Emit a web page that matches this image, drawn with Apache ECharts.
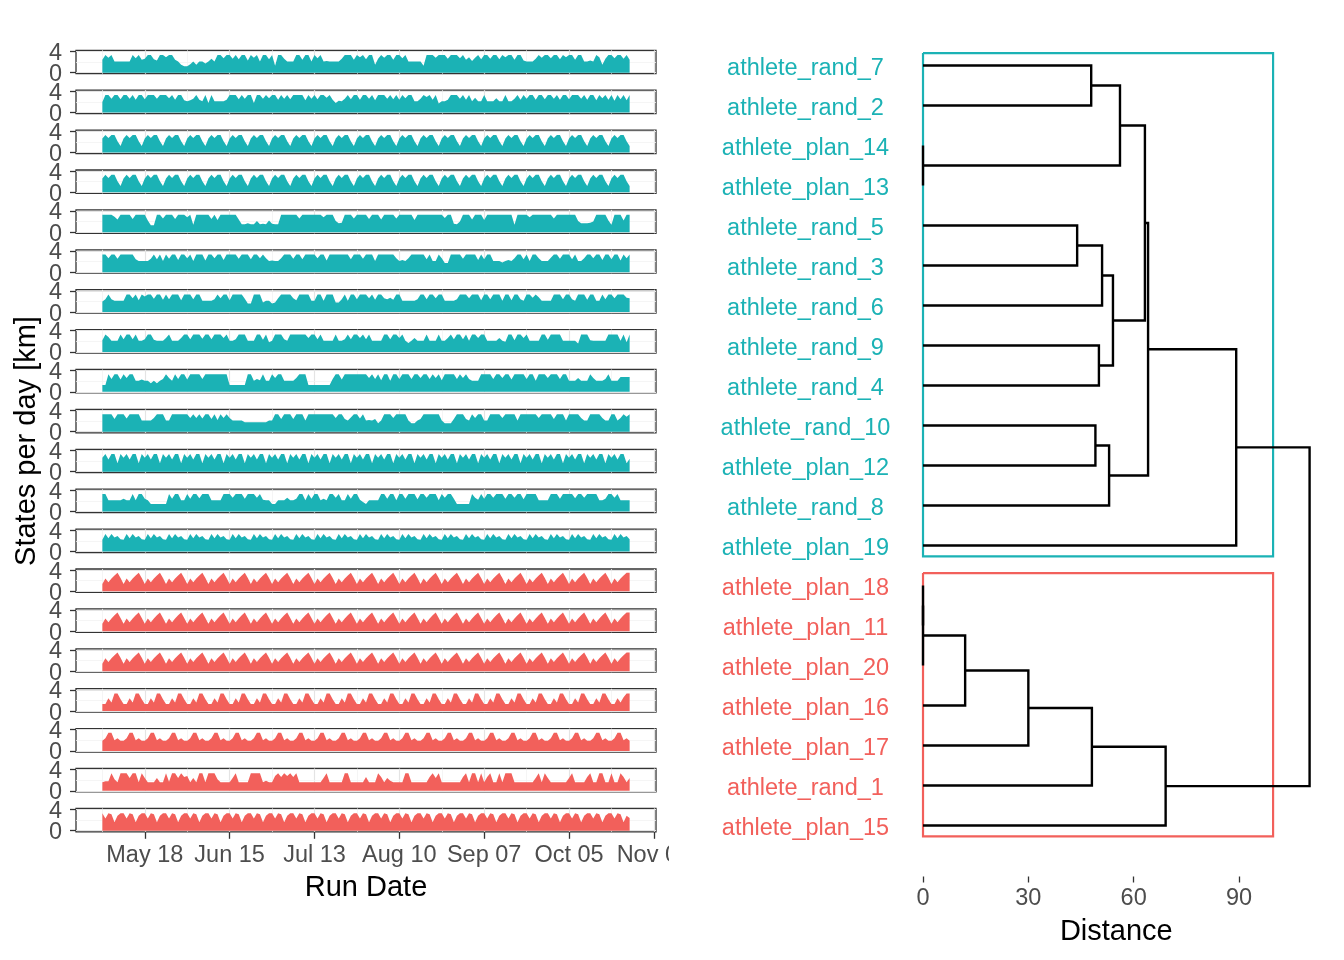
<!DOCTYPE html>
<html><head><meta charset="utf-8">
<script src="https://cdn.jsdelivr.net/npm/echarts@6/dist/echarts.min.js"></script>
<style>html,body{margin:0;padding:0;background:#fff}#c{width:1344px;height:960px}</style>
</head><body><div id="c"></div><script>
// ---------- DATA ----------
// x: day index, day 0 = May 04 (data run May 04 .. Oct 25)
const dateTickDays = [14, 42, 70, 98, 126, 154, 182];
const dateTickLabels = ['May 18', 'Jun 15', 'Jul 13', 'Aug 10', 'Sep 07', 'Oct 05', 'Nov 02'];
const minorGridDays = [0, 28, 56, 84, 112, 140, 168];
const yTickValues = [0, 4];
const distanceTicks = [0, 30, 60, 90];

const leafLabels = ['athlete_rand_7','athlete_rand_2','athlete_plan_14','athlete_plan_13','athlete_rand_5','athlete_rand_3','athlete_rand_6','athlete_rand_9','athlete_rand_4','athlete_rand_10','athlete_plan_12','athlete_rand_8','athlete_plan_19','athlete_plan_18','athlete_plan_11','athlete_plan_20','athlete_plan_16','athlete_plan_17','athlete_rand_1','athlete_plan_15'];
const leafCluster = [1,1,1,1,1,1,1,1,1,1,1,1,1,2,2,2,2,2,2,2];

// hclust-style merges: negative = leaf (-(index+1)), positive = earlier merge (1-based)
const mergeLeft   = [-14,  1, -3,  2,  4, -5, -1,  5, -10, -8,  6,  9, 11,  7, 14, 15,  8, 16, 18];
const mergeRight  = [-15,-16, -4,-17,-18, -6, -2,-19, -11, -9, -7,-12, 10,  3, 13, 12,-20,-13, 17];
const mergeHeight = [0, 0, 0, 12.0, 30.0, 43.9, 47.9, 48.1, 49.1, 50.1, 51.0, 53.0, 54.1, 56.1, 63.2, 64.1, 69.1, 89.2, 110.1];

const rand_7 = [2.4,3.3,2.8,3.3,2.1,2.1,2.1, 2.1,2.1,2.1,3.3,2.7,3.3,2.4, 2.6,3.3,3.3,2.5,2.3,3.3,3.3, 2.9,3.3,3.3,2.4,2.1,1.5,1.2, 1.2,1.6,2.1,1.5,2.1,2.1,1.7, 2.1,2.6,2.1,3.3,3.3,2.7,3.3, 3.3,2.6,3.3,2.5,3.3,3.3,2.3, 3.3,2.8,3.3,2.1,3.3,3.3,2.5, 3.3,1.3,3.3,3.3,2.6,2.1,2.1, 2.1,3.3,3.3,2.4,3.3,3.3,2.1, 3.3,2.7,3.3,2.1,2.2,2.1,2.1, 2.1,2.1,2.6,3.3,3.3,3.3,2.4, 3.3,2.9,3.3,2.5,3.3,3.3,1.5, 2.6,3.3,2.8,3.3,3.3,2.4,3.3, 3.3,2.7,3.3,2.1,2.1,2.1,2.1, 2.1,1.3,3.3,3.3,3.3,2.8,3.3, 3.3,3.3,2.6,3.3,3.3,3.3,2.7, 3.3,2.4,2.9,2.2,2.8,3.3,2.5, 3.3,3.3,2.6,3.3,3.3,2.5,3.3, 2.9,3.3,3.3,2.4,3.3,3.3,2.3, 2.1,2.1,2.1,2.6,3.3,2.8,3.3, 3.3,2.7,3.3,3.3,2.5,3.3,2.9, 3.3,3.3,2.4,3.3,3.3,2.1,2.1, 2.3,2.1,3.3,2.9,1.5,2.6,3.3, 3.3,2.7,3.3,3.3,2.6,3.3,2.4];
const rand_2 = [2.0,3.3,3.3,2.6,3.3,3.3,2.5, 3.3,3.3,2.6,3.3,2.4,3.3,3.3, 2.5,3.3,3.3,3.3,2.6,3.3,3.3, 3.3,2.7,3.3,2.4,3.3,3.3,2.3, 2.1,2.3,2.6,3.3,2.4,2.1,3.3, 1.8,3.3,2.1,2.1,2.1,2.1,2.4, 3.3,3.3,3.3,2.5,3.3,2.6,3.3, 3.3,1.8,3.3,3.3,2.6,3.3,2.7, 3.3,3.3,2.4,3.3,2.6,3.3,2.5, 3.3,3.3,3.3,3.3,2.3,3.3,2.6, 3.3,2.5,3.3,3.3,2.8,3.3,2.4, 1.8,2.2,2.1,2.6,3.3,2.5,3.3, 3.3,2.4,3.3,3.3,2.6,3.3,2.3, 3.3,3.3,3.3,2.6,3.3,2.5,3.3, 2.4,3.3,2.7,3.3,3.3,2.1,2.1, 2.6,3.3,2.9,3.3,2.4,3.3,1.7, 2.1,2.1,2.4,3.3,3.3,3.3,2.6, 3.3,2.4,3.3,2.1,2.8,2.1,2.1, 3.3,2.1,2.1,2.1,2.7,2.1,2.1, 3.3,2.1,2.1,2.6,3.3,2.4,3.3, 2.6,3.3,3.3,2.4,3.3,3.3,2.5, 3.3,3.3,2.6,3.3,2.4,3.3,3.3, 2.5,3.3,3.3,3.3,2.6,3.3,2.4, 3.3,3.3,2.3,3.3,2.7,3.3,2.4, 3.3,2.2,3.3,2.5,3.3,2.3,3.3];
const plan_14 = [2.6,3.3,2.7,3.3,3.3,2.1,1.2, 2.6,3.3,2.7,3.3,3.3,2.1,1.2, 2.6,3.3,2.7,3.3,3.3,2.1,1.2, 2.6,3.3,2.7,3.3,3.3,2.1,1.2, 2.6,3.3,2.7,3.3,3.3,2.1,1.2, 2.6,3.3,2.7,3.3,3.3,2.1,1.2, 2.6,3.3,2.7,3.3,3.3,2.1,1.2, 2.6,3.3,2.7,3.3,3.3,2.1,1.2, 2.6,3.3,2.7,3.3,3.3,2.1,1.2, 2.6,3.3,2.7,3.3,3.3,2.1,1.2, 2.6,3.3,2.7,3.3,3.3,2.1,1.2, 2.6,3.3,2.7,3.3,3.3,2.1,1.2, 2.6,3.3,2.7,3.3,3.3,2.1,1.2, 2.6,3.3,2.7,3.3,3.3,2.1,1.2, 2.6,3.3,2.7,3.3,3.3,2.1,1.2, 2.6,3.3,2.7,3.3,3.3,2.1,1.2, 2.6,3.3,2.7,3.3,3.3,2.1,1.2, 2.6,3.3,2.7,3.3,3.3,2.1,1.2, 2.6,3.3,2.7,3.3,3.3,2.1,1.2, 2.6,3.3,2.7,3.3,3.3,2.1,1.2, 2.6,3.3,2.7,3.3,3.3,2.1,1.2, 2.6,3.3,2.7,3.3,3.3,2.1,1.2, 2.6,3.3,2.7,3.3,3.3,2.1,1.2, 2.6,3.3,2.7,3.3,3.3,2.1,1.2, 2.6,3.3,2.7,3.3,3.3,2.1,1.2];
const plan_13 = plan_14; // identical series (distance 0)
const rand_5 = [3.3,3.3,3.3,3.3,2.9,2.4,3.3, 3.3,3.3,3.3,2.5,3.3,3.3,3.3, 3.3,2.2,1.3,1.3,3.3,3.3,2.6, 3.3,3.3,3.3,2.5,3.3,3.3,3.3, 2.8,3.3,1.4,3.3,3.3,3.3,3.3, 3.3,2.5,3.3,2.3,3.3,3.3,3.3, 3.3,3.3,3.3,2.4,1.5,1.5,1.7, 1.5,1.5,2.1,1.5,1.6,1.5,2.2, 1.6,1.5,1.5,3.3,3.3,3.3,3.3, 3.3,3.3,2.6,3.3,3.3,3.3,3.3, 3.3,3.3,3.3,2.8,3.3,3.3,3.3, 2.1,1.7,1.8,3.3,3.3,3.3,2.6, 3.3,3.3,3.3,3.3,2.5,3.3,3.3, 3.3,2.4,3.3,3.3,3.3,3.3,2.6, 3.3,3.3,3.3,3.3,3.3,2.3,3.3, 3.3,3.3,3.3,3.3,3.3,3.3,3.3, 3.3,2.7,3.3,3.3,1.6,1.5,2.0, 3.3,3.3,3.3,2.4,3.3,3.3,3.3, 2.3,3.3,3.3,3.3,3.3,3.3,3.3, 3.3,3.3,3.3,1.4,3.3,3.3,3.3, 3.3,2.8,3.3,3.3,3.3,3.3,3.3, 3.3,3.3,2.6,3.3,3.3,3.3,3.3, 3.3,3.3,3.3,2.1,1.7,1.7,1.7, 1.8,2.0,3.3,3.3,3.3,3.3,2.2, 1.4,3.3,3.3,3.3,2.2,3.3,3.3];
const rand_3 = [3.3,3.3,2.6,3.3,3.3,2.5,3.3, 3.3,3.3,3.3,3.3,2.4,2.1,2.1, 2.1,2.1,2.5,3.3,2.4,3.3,2.1, 3.3,2.5,3.3,3.3,2.3,3.3,3.3, 2.6,3.3,2.1,3.3,3.3,3.3,2.2, 3.3,3.3,2.6,3.3,3.3,2.3,3.3, 3.3,3.3,3.3,2.5,3.3,3.3,3.3, 2.4,3.3,3.3,2.6,3.3,2.6,2.1, 2.2,2.1,2.1,2.6,3.3,3.3,3.3, 2.5,3.3,3.3,2.4,3.3,3.3,3.3, 3.3,2.6,3.3,3.3,2.2,3.3,3.3, 3.3,3.3,3.3,3.3,3.3,2.4,3.3, 3.3,3.3,2.5,3.3,3.3,3.3,2.1, 3.3,3.3,3.3,3.3,3.3,3.3,2.6, 2.1,2.3,2.1,2.6,3.3,3.3,3.3, 3.3,3.3,2.4,3.3,2.1,2.1,3.3, 2.6,1.7,1.7,3.3,3.3,3.3,3.3, 2.5,3.3,3.3,3.3,3.3,2.3,3.3, 2.4,3.3,3.3,2.1,2.1,2.1,1.8, 2.1,2.3,2.1,2.6,3.3,3.3,2.4, 3.3,2.1,3.3,3.3,2.6,2.1,2.1, 2.1,2.7,3.3,3.3,2.5,3.3,3.3, 3.3,2.4,3.3,2.1,2.1,2.6,3.3, 3.3,2.6,3.3,3.3,2.3,3.3,3.3, 2.4,3.3,3.3,2.2,3.3,2.6,3.3];
const rand_6 = [2.0,2.4,3.3,2.4,2.1,2.1,2.1, 2.1,3.3,3.3,2.6,3.3,2.2,3.3, 2.9,3.3,3.3,2.5,3.3,3.3,2.3, 3.3,2.4,3.3,3.3,3.3,2.2,3.3, 3.3,3.3,2.4,3.3,3.3,2.1,2.1, 2.1,2.1,2.4,3.3,2.6,3.3,3.3, 2.2,3.3,3.3,3.3,3.3,2.5,1.6, 1.6,3.3,3.3,3.3,1.8,2.1,2.1, 1.6,1.8,2.6,3.3,3.3,3.3,3.3, 2.6,2.2,3.3,3.3,3.3,3.3,2.1, 2.1,3.3,3.3,2.1,3.3,3.3,3.3, 1.8,1.8,2.4,3.3,2.1,3.3,3.3, 2.4,3.3,3.3,3.3,2.6,3.3,2.3, 3.3,3.3,2.6,2.4,2.7,2.3,3.3, 3.3,2.1,2.1,2.1,2.1,2.1,2.4, 3.3,3.3,2.4,3.3,3.3,2.6,3.3, 3.3,2.1,2.1,2.1,2.1,2.4,3.3, 3.3,3.3,2.6,3.3,3.3,3.3,2.2, 3.3,3.3,2.4,3.3,3.3,3.3,2.1, 3.3,3.3,2.2,3.3,3.3,2.4,2.1, 3.3,3.3,2.7,3.3,2.8,2.1,2.1, 2.1,2.1,3.3,3.3,3.3,2.4,3.3, 3.3,2.4,2.1,3.3,3.3,3.3,2.3, 3.3,3.3,2.1,2.1,3.3,2.4,3.3, 3.3,2.6,3.3,3.3,3.3,2.7,2.6];
const rand_9 = [2.2,3.3,2.8,2.1,2.1,2.1,3.3, 2.4,3.3,3.3,2.4,3.3,2.1,2.1, 2.4,3.3,3.3,2.3,2.1,2.1,2.1, 2.6,3.3,2.1,2.1,2.1,2.6,3.3, 3.3,2.4,3.3,3.3,3.3,2.5,3.3, 3.3,2.4,3.3,3.3,3.3,2.6,3.3, 2.1,2.1,2.4,3.3,3.3,3.3,2.1, 2.1,2.1,3.3,3.3,2.3,3.3,1.8, 2.1,3.3,3.3,3.3,2.4,2.1,3.3, 3.3,3.3,3.3,3.3,3.3,2.6,3.3, 3.3,2.4,3.3,2.1,2.1,2.1,2.1, 3.3,2.1,2.1,2.4,3.3,2.4,3.3, 3.3,2.6,3.3,2.4,3.3,2.1,2.1, 2.1,2.1,3.3,3.3,2.4,3.3,3.3, 2.6,3.3,2.1,1.7,2.1,2.6,2.1, 2.1,2.1,3.3,2.1,2.1,2.1,3.3, 2.1,2.1,2.6,3.3,2.4,3.3,3.3, 2.4,3.3,2.1,3.3,3.3,2.6,3.3, 3.3,2.1,2.1,2.1,2.1,2.6,2.1, 1.9,3.3,3.3,2.2,3.3,3.3,2.6, 3.3,2.1,2.1,2.1,2.1,3.3,3.3, 2.3,3.3,3.3,3.3,3.3,2.1,2.1, 2.1,2.1,2.1,1.6,3.3,3.3,3.3, 2.2,2.1,2.1,2.1,2.1,2.1,3.3, 3.3,3.3,3.3,2.1,3.3,1.8,3.3];
const rand_4 = [1.3,1.3,3.3,2.4,3.3,3.3,2.3, 3.3,2.6,3.3,3.3,2.1,2.1,2.3, 2.1,2.1,1.6,2.1,1.6,2.1,2.4, 3.3,2.6,2.1,3.3,2.4,3.3,3.3, 2.3,3.3,3.3,3.3,3.3,2.4,3.3, 3.3,3.3,3.3,3.3,3.3,3.3,3.3, 1.3,1.3,1.3,1.3,1.3,1.3,3.3, 3.3,2.1,2.4,2.2,3.3,2.1,2.1, 3.3,2.6,3.3,3.3,2.1,2.1,2.1, 2.1,2.6,3.3,3.3,3.3,1.3,1.3, 1.3,1.3,1.3,1.3,1.3,1.3,2.4, 3.3,3.3,2.3,3.3,3.3,3.3,3.3, 3.3,3.3,3.3,3.3,2.6,3.3,2.4, 3.3,2.2,3.3,3.3,2.1,3.3,3.3, 2.4,3.3,3.3,3.3,2.4,3.3,3.3, 2.6,3.3,3.3,2.4,3.3,2.6,3.3, 2.2,3.3,3.3,3.3,3.3,2.4,3.3, 2.6,3.3,2.4,2.1,2.1,2.1,3.3, 3.3,3.3,3.3,2.4,3.3,3.3,2.6, 3.3,3.3,2.3,3.3,3.3,3.3,3.3, 2.4,3.3,3.3,2.1,3.3,3.3,3.3, 2.6,3.3,3.3,3.3,2.4,3.3,3.3, 2.1,2.1,2.1,2.6,2.1,2.1,2.1, 3.3,2.6,2.1,2.1,2.1,2.4,3.3, 2.1,2.1,2.1,2.8,2.8,2.8,2.8];
const rand_10 = [3.3,3.3,3.3,3.3,2.4,3.3,3.3, 3.3,2.5,3.3,3.3,3.3,3.3,2.1, 2.1,2.1,2.1,2.6,3.3,3.3,3.3, 2.1,2.1,3.3,3.3,3.3,3.3,3.3, 3.3,2.6,3.3,2.6,3.3,2.5,3.3, 3.3,2.4,3.3,2.2,3.3,2.6,3.3, 2.6,2.1,2.1,2.1,2.1,1.8,1.8, 1.8,1.8,1.8,1.8,1.8,1.8,2.1, 2.1,3.3,3.3,2.4,3.3,3.3,3.3, 2.4,3.3,3.3,3.3,2.1,3.3,3.3, 3.3,3.3,3.3,3.3,3.3,3.3,3.3, 2.6,3.3,3.3,2.4,2.1,2.7,3.3, 3.3,2.5,3.3,2.1,2.2,2.1,2.4, 1.6,2.1,3.3,3.3,3.3,2.6,3.3, 3.3,3.3,3.3,2.1,1.6,1.6,2.1, 2.4,3.3,3.3,3.3,3.3,3.3,3.3, 2.1,1.6,1.6,1.6,2.4,3.3,3.3, 3.3,2.4,2.1,3.3,2.6,3.3,3.3, 2.1,2.1,3.3,3.3,3.3,3.3,2.6, 3.3,3.3,3.3,3.3,2.1,3.3,3.3, 3.3,3.3,3.3,3.3,2.6,3.3,3.3, 3.3,3.3,2.4,3.3,3.3,3.3,2.1, 3.3,3.3,3.3,3.3,2.6,2.1,2.1, 3.3,3.3,3.3,3.3,2.6,2.1,2.1, 3.3,3.3,2.1,2.6,3.3,2.8,3.3];
const plan_12 = [2.6,3.3,2.3,3.3,3.3,1.6,3.3, 2.6,3.3,2.3,3.3,3.3,1.6,3.3, 2.6,3.3,2.3,3.3,3.3,1.6,3.3, 2.6,3.3,2.3,3.3,3.3,1.6,3.3, 2.6,3.3,2.3,3.3,3.3,1.6,3.3, 2.6,3.3,2.3,3.3,3.3,1.6,3.3, 2.6,3.3,2.3,3.3,3.3,1.6,3.3, 2.6,3.3,2.3,3.3,3.3,1.6,3.3, 2.6,3.3,2.3,3.3,3.3,1.6,3.3, 2.6,3.3,2.3,3.3,3.3,1.6,3.3, 2.6,3.3,2.3,3.3,3.3,1.6,3.3, 2.6,3.3,2.3,3.3,3.3,1.6,3.3, 2.6,3.3,2.3,3.3,3.3,1.6,3.3, 2.6,3.3,2.3,3.3,3.3,1.6,3.3, 2.6,3.3,2.3,3.3,3.3,1.6,3.3, 2.6,3.3,2.3,3.3,3.3,1.6,3.3, 2.6,3.3,2.3,3.3,3.3,1.6,3.3, 2.6,3.3,2.3,3.3,3.3,1.6,3.3, 2.6,3.3,2.3,3.3,3.3,1.6,3.3, 2.6,3.3,2.3,3.3,3.3,1.6,3.3, 2.6,3.3,2.3,3.3,3.3,1.6,3.3, 2.6,3.3,2.3,3.3,3.3,1.6,3.3, 2.6,3.3,2.3,3.3,3.3,1.6,3.3, 2.6,3.3,2.3,3.3,3.3,1.6,3.3, 2.6,3.3,2.3,3.3,3.3,1.6,2.4];
const rand_8 = [3.3,3.3,2.1,2.1,2.1,2.1,2.1, 2.4,2.1,2.1,3.3,2.1,3.3,3.3, 2.4,2.1,1.4,1.4,1.4,1.4,1.4, 1.4,3.3,2.4,3.3,3.3,2.1,2.1, 3.3,2.4,3.3,3.3,2.5,3.3,3.3, 3.3,2.1,2.1,2.1,2.1,3.3,3.3, 3.3,2.6,3.3,3.3,3.3,2.4,3.3, 3.3,3.3,2.6,3.3,2.2,2.1,2.1, 1.4,1.4,2.1,2.1,2.1,2.6,2.1, 2.1,2.4,3.3,3.3,2.1,3.3,2.4, 3.3,3.3,2.1,2.4,2.1,3.3,3.3, 2.6,3.3,2.1,2.1,3.3,2.4,3.3, 3.3,2.2,1.8,1.4,2.1,2.1,2.1, 2.1,3.3,3.3,2.4,3.3,3.3,2.1, 3.3,3.3,2.4,3.3,3.3,3.3,2.3, 3.3,3.3,2.6,3.3,3.3,3.3,2.1, 3.3,2.6,3.3,3.3,2.4,1.4,1.4, 1.4,1.4,1.4,3.3,2.6,2.2,3.3, 2.4,3.3,3.3,2.6,3.3,3.3,3.3, 2.4,3.3,3.3,2.6,3.3,3.3,2.3, 3.3,3.3,3.3,3.3,2.1,2.1,2.1, 2.1,3.3,3.3,3.3,2.4,3.3,3.3, 3.3,3.3,2.5,3.3,3.3,2.6,3.3, 3.3,3.3,3.3,2.1,2.1,2.4,3.3, 3.3,2.6,3.3,2.1,2.1,2.1,2.1];
const plan_19 = [2.2,3.3,2.5,3.3,2.6,2.9,2.3, 2.2,3.3,2.5,3.3,2.6,2.9,2.3, 2.2,3.3,2.5,3.3,2.6,2.9,2.3, 2.2,3.3,2.5,3.3,2.6,2.9,2.3, 2.2,3.3,2.5,3.3,2.6,2.9,2.3, 2.2,3.3,2.5,3.3,2.6,2.9,2.3, 2.2,3.3,2.5,3.3,2.6,2.9,2.3, 2.2,3.3,2.5,3.3,2.6,2.9,2.3, 2.2,3.3,2.5,3.3,2.6,2.9,2.3, 2.2,3.3,2.5,3.3,2.6,2.9,2.3, 2.2,3.3,2.5,3.3,2.6,2.9,2.3, 2.2,3.3,2.5,3.3,2.6,2.9,2.3, 2.2,3.3,2.5,3.3,2.6,2.9,2.3, 2.2,3.3,2.5,3.3,2.6,2.9,2.3, 2.2,3.3,2.5,3.3,2.6,2.9,2.3, 2.2,3.3,2.5,3.3,2.6,2.9,2.3, 2.2,3.3,2.5,3.3,2.6,2.9,2.3, 2.2,3.3,2.5,3.3,2.6,2.9,2.3, 2.2,3.3,2.5,3.3,2.6,2.9,2.3, 2.2,3.3,2.5,3.3,2.6,2.9,2.3, 2.2,3.3,2.5,3.3,2.6,2.9,2.3, 2.2,3.3,2.5,3.3,2.6,2.9,2.3, 2.2,3.3,2.5,3.3,2.6,2.9,2.3, 2.2,3.3,2.5,3.3,2.6,2.9,2.3, 2.2,3.3,2.5,3.3,2.6,2.9,2.3];
const plan_18 = [1.4,2.4,1.7,2.4,3.0,3.5,2.5, 1.4,2.4,1.7,2.4,3.0,3.5,2.5, 1.4,2.4,1.7,2.4,3.0,3.5,2.5, 1.4,2.4,1.7,2.4,3.0,3.5,2.5, 1.4,2.4,1.7,2.4,3.0,3.5,2.5, 1.4,2.4,1.7,2.4,3.0,3.5,2.5, 1.4,2.4,1.7,2.4,3.0,3.5,2.5, 1.4,2.4,1.7,2.4,3.0,3.5,2.5, 1.4,2.4,1.7,2.4,3.0,3.5,2.5, 1.4,2.4,1.7,2.4,3.0,3.5,2.5, 1.4,2.4,1.7,2.4,3.0,3.5,2.5, 1.4,2.4,1.7,2.4,3.0,3.5,2.5, 1.4,2.4,1.7,2.4,3.0,3.5,2.5, 1.4,2.4,1.7,2.4,3.0,3.5,2.5, 1.4,2.4,1.7,2.4,3.0,3.5,2.5, 1.4,2.4,1.7,2.4,3.0,3.5,2.5, 1.4,2.4,1.7,2.4,3.0,3.5,2.5, 1.4,2.4,1.7,2.4,3.0,3.5,2.5, 1.4,2.4,1.7,2.4,3.0,3.5,2.5, 1.4,2.4,1.7,2.4,3.0,3.5,2.5, 1.4,2.4,1.7,2.4,3.0,3.5,2.5, 1.4,2.4,1.7,2.4,3.0,3.5,2.5, 1.4,2.4,1.7,2.4,3.0,3.5,2.5, 1.4,2.4,1.7,2.4,3.0,3.5,2.5, 1.4,2.4,1.7,2.4,3.0,3.5,3.5];
const plan_11 = plan_18; // identical series (distance 0)
const plan_20 = plan_18; // identical series (distance 0)
const plan_16 = [1.3,1.3,2.4,1.6,3.3,3.3,2.2, 1.3,1.3,2.4,1.6,3.3,3.3,2.2, 1.3,1.3,2.4,1.6,3.3,3.3,2.2, 1.3,1.3,2.4,1.6,3.3,3.3,2.2, 1.3,1.3,2.4,1.6,3.3,3.3,2.2, 1.3,1.3,2.4,1.6,3.3,3.3,2.2, 1.3,1.3,2.4,1.6,3.3,3.3,2.2, 1.3,1.3,2.4,1.6,3.3,3.3,2.2, 1.3,1.3,2.4,1.6,3.3,3.3,2.2, 1.3,1.3,2.4,1.6,3.3,3.3,2.2, 1.3,1.3,2.4,1.6,3.3,3.3,2.2, 1.3,1.3,2.4,1.6,3.3,3.3,2.2, 1.3,1.3,2.4,1.6,3.3,3.3,2.2, 1.3,1.3,2.4,1.6,3.3,3.3,2.2, 1.3,1.3,2.4,1.6,3.3,3.3,2.2, 1.3,1.3,2.4,1.6,3.3,3.3,2.2, 1.3,1.3,2.4,1.6,3.3,3.3,2.2, 1.3,1.3,2.4,1.6,3.3,3.3,2.2, 1.3,1.3,2.4,1.6,3.3,3.3,2.2, 1.3,1.3,2.4,1.6,3.3,3.3,2.2, 1.3,1.3,2.4,1.6,3.3,3.3,2.2, 1.3,1.3,2.4,1.6,3.3,3.3,2.2, 1.3,1.3,2.4,1.6,3.3,3.3,2.2, 1.3,1.3,2.4,1.6,3.3,3.3,2.2, 1.3,1.3,2.4,1.6,2.6,3.3,3.3];
const plan_17 = [1.9,2.4,3.4,3.4,2.0,2.4,1.9, 1.9,2.4,3.4,3.4,2.0,2.4,1.9, 1.9,2.4,3.4,3.4,2.0,2.4,1.9, 1.9,2.4,3.4,3.4,2.0,2.4,1.9, 1.9,2.4,3.4,3.4,2.0,2.4,1.9, 1.9,2.4,3.4,3.4,2.0,2.4,1.9, 1.9,2.4,3.4,3.4,2.0,2.4,1.9, 1.9,2.4,3.4,3.4,2.0,2.4,1.9, 1.9,2.4,3.4,3.4,2.0,2.4,1.9, 1.9,2.4,3.4,3.4,2.0,2.4,1.9, 1.9,2.4,3.4,3.4,2.0,2.4,1.9, 1.9,2.4,3.4,3.4,2.0,2.4,1.9, 1.9,2.4,3.4,3.4,2.0,2.4,1.9, 1.9,2.4,3.4,3.4,2.0,2.4,1.9, 1.9,2.4,3.4,3.4,2.0,2.4,1.9, 1.9,2.4,3.4,3.4,2.0,2.4,1.9, 1.9,2.4,3.4,3.4,2.0,2.4,1.9, 1.9,2.4,3.4,3.4,2.0,2.4,1.9, 1.9,2.4,3.4,3.4,2.0,2.4,1.9, 1.9,2.4,3.4,3.4,2.0,2.4,1.9, 1.9,2.4,3.4,3.4,2.0,2.4,1.9, 1.9,2.4,3.4,3.4,2.0,2.4,1.9, 1.9,2.4,3.4,3.4,2.0,2.4,1.9, 1.9,2.4,3.4,3.4,2.0,2.4,1.9, 1.9,2.4,3.4,3.4,2.0,2.4,1.9];
const rand_1 = [1.6,1.8,1.8,3.3,2.2,1.6,3.3, 3.3,3.3,2.4,3.3,3.3,1.6,3.3, 2.4,1.6,1.6,1.6,2.4,1.6,1.6, 3.3,1.7,3.3,3.3,2.4,3.3,2.6, 2.8,1.6,2.4,1.6,3.3,3.3,1.6, 3.3,3.3,3.3,2.2,1.6,1.6,1.6, 1.6,2.4,3.3,1.6,1.6,1.6,1.6, 3.3,3.3,3.3,3.3,1.6,1.9,1.6, 1.6,2.8,3.3,2.6,3.3,2.8,3.3, 2.6,3.3,1.6,1.6,1.6,1.6,1.6, 1.6,1.6,1.6,2.4,3.3,1.6,1.6, 1.6,1.6,1.6,3.3,3.3,1.6,1.6, 1.6,1.6,1.6,2.6,1.6,1.6,1.6, 3.3,2.6,1.6,2.4,1.9,1.6,1.6, 1.6,1.6,3.3,3.3,1.6,1.6,1.6, 1.6,1.6,1.6,2.6,3.3,2.4,3.3, 1.6,1.6,1.6,1.6,1.6,1.6,1.6, 2.6,3.3,1.6,3.3,3.3,1.6,3.3, 1.6,2.6,3.3,1.6,1.6,3.3,1.6, 3.3,3.3,3.3,1.6,1.6,1.6,1.6, 1.6,1.6,1.6,2.4,3.3,1.6,3.3, 2.4,1.6,1.6,1.6,1.6,1.6,1.6, 2.4,3.3,1.6,1.6,1.6,1.6,2.6, 3.3,1.6,1.6,3.3,3.3,1.6,1.6, 3.3,1.6,1.6,3.3,2.6,1.6,2.4];
const plan_15 = [3.3,2.3,3.3,3.1,1.6,2.8,3.3, 3.3,2.3,3.3,3.1,1.6,2.8,3.3, 3.3,2.3,3.3,3.1,1.6,2.8,3.3, 3.3,2.3,3.3,3.1,1.6,2.8,3.3, 3.3,2.3,3.3,3.1,1.6,2.8,3.3, 3.3,2.3,3.3,3.1,1.6,2.8,3.3, 3.3,2.3,3.3,3.1,1.6,2.8,3.3, 3.3,2.3,3.3,3.1,1.6,2.8,3.3, 3.3,2.3,3.3,3.1,1.6,2.8,3.3, 3.3,2.3,3.3,3.1,1.6,2.8,3.3, 3.3,2.3,3.3,3.1,1.6,2.8,3.3, 3.3,2.3,3.3,3.1,1.6,2.8,3.3, 3.3,2.3,3.3,3.1,1.6,2.8,3.3, 3.3,2.3,3.3,3.1,1.6,2.8,3.3, 3.3,2.3,3.3,3.1,1.6,2.8,3.3, 3.3,2.3,3.3,3.1,1.6,2.8,3.3, 3.3,2.3,3.3,3.1,1.6,2.8,3.3, 3.3,2.3,3.3,3.1,1.6,2.8,3.3, 3.3,2.3,3.3,3.1,1.6,2.8,3.3, 3.3,2.3,3.3,3.1,1.6,2.8,3.3, 3.3,2.3,3.3,3.1,1.6,2.8,3.3, 3.3,2.3,3.3,3.1,1.6,2.8,3.3, 3.3,2.3,3.3,3.1,1.6,2.8,3.3, 3.3,2.3,3.3,3.1,1.6,2.8,3.3, 3.3,2.3,3.3,3.1,1.6,2.8,2.4];

const seriesByLabel = {
  athlete_rand_7: rand_7, athlete_rand_2: rand_2, athlete_plan_14: plan_14, athlete_plan_13: plan_13,
  athlete_rand_5: rand_5, athlete_rand_3: rand_3, athlete_rand_6: rand_6, athlete_rand_9: rand_9,
  athlete_rand_4: rand_4, athlete_rand_10: rand_10, athlete_plan_12: plan_12, athlete_rand_8: rand_8,
  athlete_plan_19: plan_19, athlete_plan_18: plan_18, athlete_plan_11: plan_11, athlete_plan_20: plan_20,
  athlete_plan_16: plan_16, athlete_plan_17: plan_17, athlete_rand_1: rand_1, athlete_plan_15: plan_15
};

// ---------- STYLE / LAYOUT ----------
const FONT = '"Liberation Sans", Arial, Helvetica, sans-serif';
const clusterColor = {1: '#1BB2B5', 2: '#F2605B'};
const TICK_COLOR = '#333333';
const LABEL_COLOR = '#4D4D4D';
const panelLeft = 76, panelWidth = 580, panelTop0 = 50.3, panelPitch = 39.9, panelHeight = 23.4;

const grids = [], xAxes = [], yAxes = [], series = [];
leafLabels.forEach((lab, k) => {
  const last = k === leafLabels.length - 1;
  grids.push({left: panelLeft, top: panelTop0 + k * panelPitch, width: panelWidth, height: panelHeight,
    show: true, borderColor: '#333333', borderWidth: 1.3, backgroundColor: '#fff', containLabel: false});
  xAxes.push({gridIndex: k, type: 'value', min: -8.7, max: 182.7,
    axisLine: {show: false, onZero: false}, splitLine: {show: false},
    axisTick: {show: last, customValues: dateTickDays, length: 7, lineStyle: {color: TICK_COLOR, width: 1.3}},
    axisLabel: {show: last, customValues: dateTickDays, margin: 12, fontSize: 23.5, color: LABEL_COLOR, fontFamily: FONT,
      showMinLabel: true, showMaxLabel: true, hideOverlap: false,
      formatter: v => dateTickLabels[dateTickDays.indexOf(v)]},
    name: last ? 'Run Date' : '', nameLocation: 'middle', nameGap: 42,
    nameTextStyle: {fontSize: 29, color: '#000', fontFamily: FONT}
  });
  // one y axis per tick label, so the two close labels never hide each other
  yTickValues.forEach(tv => {
    yAxes.push({gridIndex: k, type: 'value', min: -0.2, max: 4.2, position: 'left',
      axisLine: {show: false, onZero: false}, splitLine: {show: false},
      axisTick: {show: true, customValues: [tv], length: 6, lineStyle: {color: TICK_COLOR, width: 1.3}},
      axisLabel: {customValues: [tv], margin: 14, fontSize: 23.5, color: LABEL_COLOR, fontFamily: FONT,
        verticalAlign: 'top', lineHeight: 4, showMinLabel: true, showMaxLabel: true}
    });
  });
  const yi = k * yTickValues.length;
  // background grid lines (drawn below the area)
  const ml = [];
  minorGridDays.forEach(d => ml.push({xAxis: d, lineStyle: {color: '#F2F2F2', width: 0.8, type: 'solid'}}));
  dateTickDays.forEach(d => ml.push({xAxis: d, lineStyle: {color: '#E4E4E4', width: 1.2, type: 'solid'}}));
  ml.push({yAxis: 2, lineStyle: {color: '#F2F2F2', width: 0.8, type: 'solid'}});
  yTickValues.forEach(v => ml.push({yAxis: v, lineStyle: {color: '#E4E4E4', width: 1.2, type: 'solid'}}));
  series.push({type: 'line', xAxisIndex: k, yAxisIndex: yi, data: [], z: 1, silent: true, animation: false,
    markLine: {z: 1, symbol: 'none', silent: true, animation: false, label: {show: false}, data: ml}});
  const vals = seriesByLabel[lab];
  series.push({type: 'line', xAxisIndex: k, yAxisIndex: yi, z: 3, silent: true, animation: false,
    data: vals.map((v, i) => [i, v]), symbol: 'none', showSymbol: false,
    lineStyle: {width: 0}, areaStyle: {color: clusterColor[leafCluster[k]], opacity: 1}});
});

// ---------- DENDROGRAM ----------
const DG = leafLabels.length; // grid index for dendrogram
const DY = yAxes.length;      // y axis index for dendrogram
grids.push({left: 903.7, top: 45.5, width: 425.2, height: 800, show: false});
xAxes.push({gridIndex: DG, type: 'value', min: -5.5, max: 115.6, offset: 31, position: 'bottom',
  axisLine: {show: false, onZero: false}, splitLine: {show: false},
  axisTick: {show: true, customValues: distanceTicks, length: 6, lineStyle: {color: TICK_COLOR, width: 1.3}},
  axisLabel: {customValues: distanceTicks, margin: 10, fontSize: 23.5, color: LABEL_COLOR, fontFamily: FONT},
  name: 'Distance', nameLocation: 'middle', nameGap: 41, nameTextStyle: {fontSize: 29, color: '#000', fontFamily: FONT}
});
yAxes.push({gridIndex: DG, type: 'value', min: -0.5, max: 19.5, inverse: true, show: false, position: 'right',
  axisLine: {onZero: false}});
yAxes.push({gridIndex: DG, type: 'category', data: leafLabels, inverse: true, position: 'left',
  axisLine: {show: false, onZero: false}, axisTick: {show: false}, splitLine: {show: false},
  axisLabel: {interval: 0, align: 'center', margin: 98.2, fontSize: 23.5, fontFamily: FONT,
    verticalAlign: 'top', lineHeight: 7,
    color: (v, i) => clusterColor[leafCluster[i]]}
});

// node coordinates from merges
const nodePos = [], nodeH = [];
const getPos = r => r < 0 ? -r - 1 : nodePos[r - 1];
const getH = r => r < 0 ? 0 : nodeH[r - 1];
const segs = [];
mergeHeight.forEach((h, m) => {
  const a = mergeLeft[m], b = mergeRight[m];
  const ya = getPos(a), yb = getPos(b);
  segs.push({coords: [[getH(a), ya], [h, ya], [h, yb], [getH(b), yb]]});
  nodePos.push((ya + yb) / 2);
  nodeH.push(h);
});
// cluster rectangles
const rects = [];
[1, 2].forEach(c => {
  const idx = leafCluster.map((cc, i) => cc === c ? i : -1).filter(i => i >= 0);
  const y0 = Math.min(...idx) - 0.31, y1 = Math.max(...idx) + 0.27, x0 = 0, x1 = 99.7;
  rects.push({coords: [[x0, y0], [x1, y0], [x1, y1], [x0, y1], [x0, y0]], lineStyle: {color: clusterColor[c]}});
});
series.push({type: 'lines', coordinateSystem: 'cartesian2d', xAxisIndex: DG, yAxisIndex: DY, polyline: true,
  z: 2, silent: true, animation: false, data: rects, lineStyle: {width: 2.2, opacity: 1}});
series.push({type: 'lines', coordinateSystem: 'cartesian2d', xAxisIndex: DG, yAxisIndex: DY, polyline: true,
  z: 4, silent: true, animation: false, data: segs, lineStyle: {color: '#000', width: 2.4, opacity: 1}});

const option = {
  backgroundColor: '#fff',
  animation: false,
  grid: grids, xAxis: xAxes, yAxis: yAxes, series: series,
  graphic: [
    {type: 'text', x: 27, y: 441, rotation: Math.PI / 2, z: 10,
      style: {text: 'States per day [km]', x: 0, y: 0, align: 'center', verticalAlign: 'middle', fontSize: 29, fill: '#000', fontFamily: FONT}},
    {type: 'rect', shape: {x: 669, y: 838, width: 45, height: 36}, style: {fill: '#fff'}, z: 100}
  ]
};
const chart = echarts.init(document.getElementById('c'), null, {renderer: 'canvas'});
chart.setOption(option);
</script></body></html>
